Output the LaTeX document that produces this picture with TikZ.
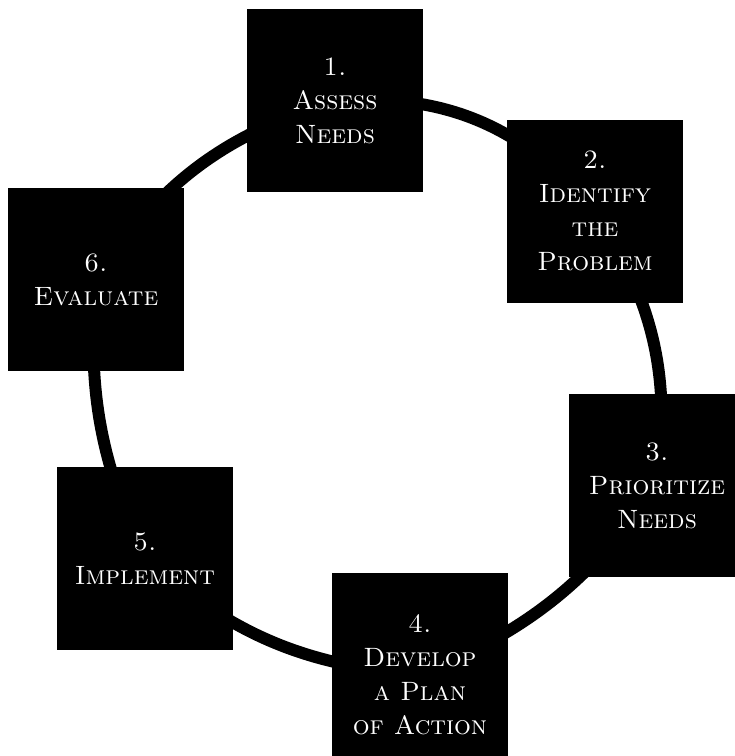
\documentclass[tikz,border=0pt]{standalone}
\usetikzlibrary{backgrounds}
\tikzset{
  stage/.style = {rectangle, fill=black, text=white, inner sep=0pt,
                  minimum width=176pt, minimum height=183pt, align=center,
                  font=\fontsize{26.5}{34}\selectfont\scshape},
  ring/.style  = {draw=black, line width=12pt},
}
\begin{document}
\begin{tikzpicture}[x=1pt, y=-1pt]
\useasboundingbox (0,0) rectangle (735,756);

% ---- Stages -----------------------------------------------------------------
\node[stage] (assess)    at (335,100.5) {1.\\Assess\\Needs};
\node[stage] (identify)  at (595,211)   {2.\\Identify\\the\\Problem};
\node[stage] (priority)  at (657,485.5) {3.\\Prioritize\\Needs};
\node[stage, minimum height=204pt]
             (develop)   at (420,675)   {4.\\Develop\\a Plan\\of Action};
\node[stage] (implement) at (145,558.5) {5.\\Implement};
\node[stage] (evaluate)  at (96,279.5)  {6.\\Evaluate};

% ---- Ring -------------------------------------------------------------------
\begin{scope}[on background layer]
  \foreach \a/\b/\t in {assess/identify/27, identify/priority/20,
                        priority/develop/16, develop/implement/18,
                        implement/evaluate/14.5, evaluate/assess/19.5}
    \draw[ring] (\a.center) to[bend left=\t] (\b.center);
\end{scope}

\end{tikzpicture}
\end{document}
